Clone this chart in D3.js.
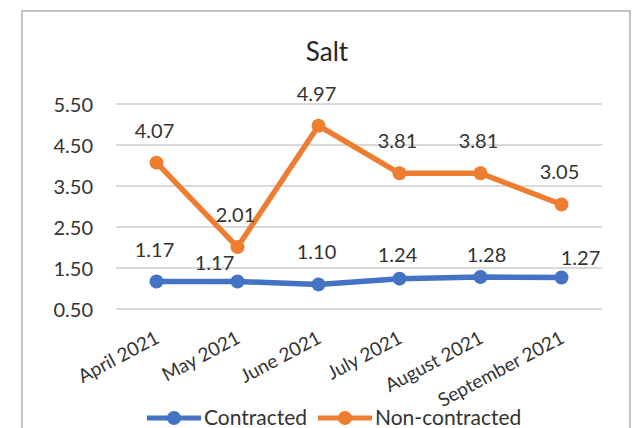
<!DOCTYPE html>
<html>
<head>
<meta charset="utf-8">
<script src="https://cdn.jsdelivr.net/npm/d3@7"></script>
<style>
  body { margin: 0; background: #fff; }
  svg text { font-family: Lato, "Open Sans", sans-serif; fill: #333; }
</style>
</head>
<body>
<div id="chart"></div>
<script>
//Chart data
const months = ["April 2021", "May 2021", "June 2021", "July 2021", "August 2021", "September 2021"];
const contracted = [1.17, 1.17, 1.10, 1.24, 1.28, 1.27];
const nonContracted = [4.07, 2.01, 4.97, 3.81, 3.81, 3.05];
const yTicks = [0.5, 1.5, 2.5, 3.5, 4.5, 5.5];
const seriesNames = ["Contracted", "Non-contracted"];

const width = 637;
const height = 428;

const svg = d3.select("#chart").append("svg")
  .attr("width", width)
  .attr("height", height);

//Chart frame
svg.append("rect")
  .attr("x", 22).attr("y", 11)
  .attr("width", 608).attr("height", 430)
  .attr("fill", "#fff")
  .attr("stroke", "#c4c4c4")
  .attr("stroke-width", 2);

//Title
svg.append("text")
  .attr("x", 327).attr("y", 61)
  .attr("text-anchor", "middle")
  .style("font-size", "26px")
  .style("fill", "#262626")
  .text("Salt");

//Scales
const x = d3.scaleBand().domain(months).range([116, 602]);
const y = d3.scaleLinear().domain([0.5, 5.5]).range([309, 104]);
const cx = (m) => x(m) + x.bandwidth() / 2;

//Gridlines
svg.append("g")
  .selectAll("line")
  .data(yTicks)
  .join("line")
    .attr("x1", 116).attr("x2", 602)
    .attr("y1", (d) => y(d)).attr("y2", (d) => y(d))
    .attr("stroke", "#d9d9d9")
    .attr("stroke-width", 2);

//Y axis
const yaxis = d3.axisLeft(y).tickValues(yTicks).tickFormat(d3.format(".2f")).tickSize(0).tickPadding(0);
const g_yaxis = svg.append("g").attr("transform", "translate(93,0)").call(yaxis);
g_yaxis.select(".domain").remove();
g_yaxis.selectAll("text")
  .style("font-size", "20px")
  .style("fill", "#333")
  .attr("dy", "0.35em");

//X axis labels, rotated
const xaxis = d3.axisBottom(x).tickSize(0).tickPadding(0);
const g_xaxis = svg.append("g").attr("transform", "translate(0,318)").call(xaxis);
g_xaxis.select(".domain").remove();
g_xaxis.selectAll("text")
  .style("font-size", "19px")
  .style("fill", "#333")
  .attr("text-anchor", "end")
  .attr("x", 4)
  .attr("y", 24)
  .attr("dy", 0)
  .attr("transform", "rotate(-28, 4, 24)");

//Series
const colors = ["#4472c4", "#ed7d31"];
const seriesData = [contracted, nonContracted];

//Label nudges where labels were moved off the line
const labelNudge = [
  [[0, 0], [-21, 13], [0, 0], [0, 8], [8, 10], [21, 13]],
  [[0, 0], [0, 0], [0, 0], [0, 0], [0, 0], [0, 0]]
];

const line = d3.line()
  .x((d, i) => cx(months[i]))
  .y((d) => y(d));

seriesData.forEach((values, s) => {
  const g = svg.append("g");
  g.append("path")
    .datum(values)
    .attr("d", line)
    .attr("fill", "none")
    .attr("stroke", colors[s])
    .attr("stroke-width", 5.5)
    .attr("stroke-linejoin", "round");

  g.selectAll("circle")
    .data(values)
    .join("circle")
      .attr("cx", (d, i) => cx(months[i]))
      .attr("cy", (d) => y(d))
      .attr("r", 7)
      .attr("fill", colors[s]);

  g.selectAll("text")
    .data(values)
    .join("text")
      .attr("x", (d, i) => cx(months[i]) - 2 + labelNudge[s][i][0])
      .attr("y", (d, i) => y(d) - 25 + labelNudge[s][i][1])
      .attr("text-anchor", "middle")
      .style("font-size", "20px")
      .text((d) => d3.format(".2f")(d));
});

//Legend
const legendItems = [
  { name: seriesNames[0], color: colors[0], x: 147 },
  { name: seriesNames[1], color: colors[1], x: 318 }
];
const legend = svg.append("g");
legendItems.forEach((item) => {
  legend.append("line")
    .attr("x1", item.x).attr("x2", item.x + 54)
    .attr("y1", 418).attr("y2", 418)
    .attr("stroke", item.color)
    .attr("stroke-width", 5);
  legend.append("circle")
    .attr("cx", item.x + 27).attr("cy", 418)
    .attr("r", 7)
    .attr("fill", item.color);
  legend.append("text")
    .attr("x", item.x + 57).attr("y", 425)
    .style("font-size", "21px")
    .text(item.name);
});
</script>
</body>
</html>
